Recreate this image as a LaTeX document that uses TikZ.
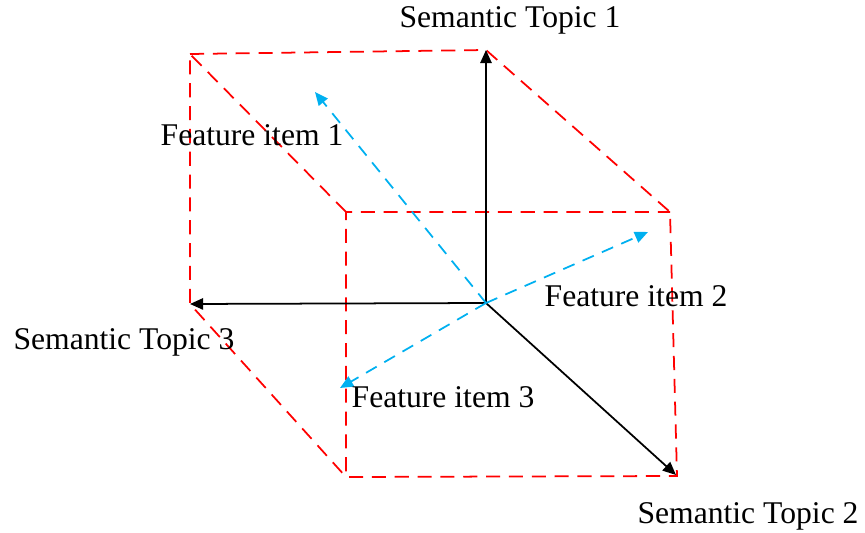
\documentclass[tikz,border=0pt]{standalone}
\usepackage{fontspec}
\setmainfont{Liberation Serif}
\usetikzlibrary{arrows.meta}
\definecolor{itemblue}{RGB}{0,176,240}

\begin{document}
\begin{tikzpicture}[x=0.02cm,y=-0.02cm,
    axis/.style={line width=1pt,-{Triangle[length=7.5pt,width=6.5pt]}},
    edge/.style={red,line width=1pt,dash pattern=on 8pt off 5pt},
    feature/.style={itemblue,line width=1pt,dash pattern=on 7pt off 5pt,-{Triangle[length=7.5pt,width=6.5pt]}},
    lbl/.style={inner sep=0pt,font=\fontsize{18}{22}\selectfont}]
      \useasboundingbox (0,0) rectangle (865,533);
      % Corner points
      \coordinate (o) at (486,303);
      \coordinate (t1) at (486,50);
      \coordinate (t2) at (676,475);
      \coordinate (t3) at (190,304);
      \coordinate (b1) at (190,54);
      \coordinate (f1) at (346,212);
      \coordinate (f2) at (670,212);
      \coordinate (f3) at (677,476);
      \coordinate (f4) at (346,477);
      \coordinate (e1) at (315,92);
      \coordinate (e2) at (648,232);
      \coordinate (e3) at (340,388);
      % Red dashed box
      \draw[edge] (b1) -- (t1) -- (f2) -- (f3) -- (f4) -- (f1) -- (f2);
      \draw[edge] (f1) -- (b1) -- (t3) -- (f4);
      % Topic axes
      \draw[axis] (o) -- (t1);
      \draw[axis] (o) -- (t2);
      \draw[axis] (o) -- (t3);
      % Feature items
      \draw[feature] (o) -- (e1);
      \draw[feature] (o) -- (e2);
      \draw[feature] (o) -- (e3);
      % Labels
      \node[lbl] (l1) at (510,20) {Semantic Topic 1};
      \node[lbl] (l2) at (748,516) {Semantic Topic 2};
      \node[lbl] (l3) at (124,342) {Semantic Topic 3};
      \node[lbl] (k1) at (252,135) {Feature item 1};
      \node[lbl] (k2) at (636,296) {Feature item 2};
      \node[lbl] (k3) at (443,397) {Feature item 3};
\end{tikzpicture}
\end{document}
